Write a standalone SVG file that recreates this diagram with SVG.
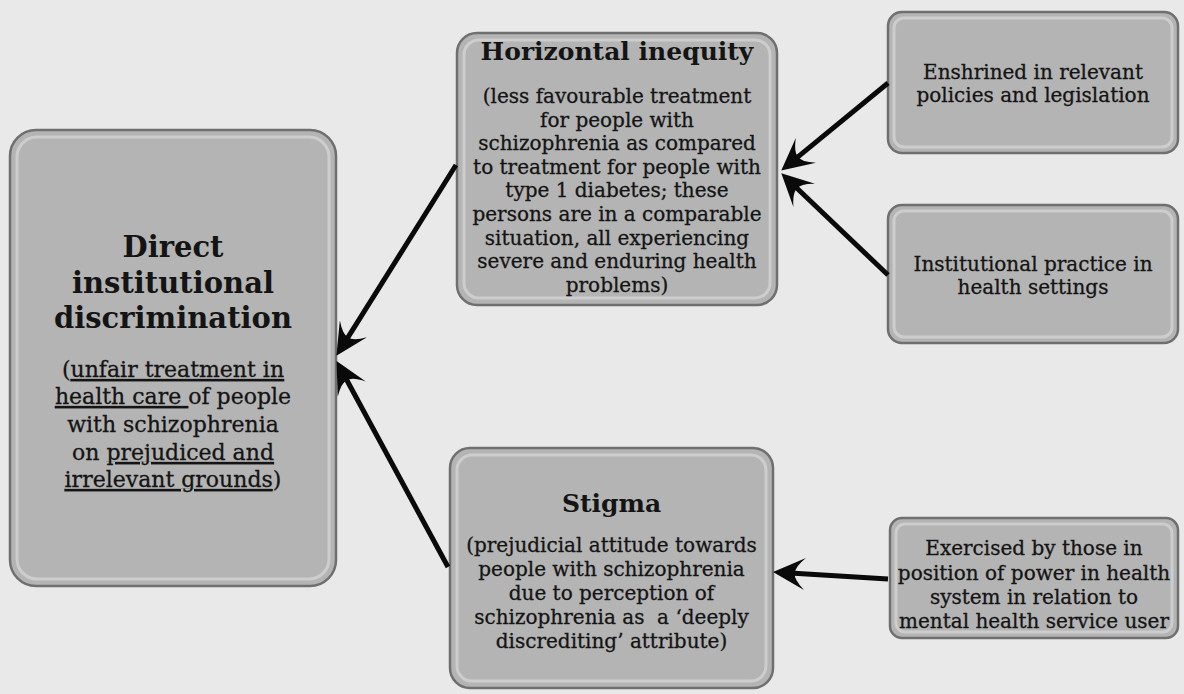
<svg xmlns="http://www.w3.org/2000/svg" width="1184" height="694" viewBox="0 0 1184 694">
<style>
.bg{fill:#e9e9e9}
.box{fill:#b4b4b4;stroke:#6f6f6f;stroke-width:2.5}
.bev{fill:none;stroke:#d6d6d6;stroke-width:3;opacity:0.75}
text{font-family:"DejaVu Serif","Liberation Serif",serif;fill:#141414;text-anchor:middle}
.t1{font-size:29px;font-weight:bold}
.t2{font-size:25px;font-weight:bold}
.s1{font-size:22px;stroke:#141414;stroke-width:0.3}
.s2{font-size:20px;stroke:#141414;stroke-width:0.3}
.u{text-decoration:underline}
.conn{stroke:#0a0a0a;stroke-width:5;fill:none;marker-end:url(#arr)}
</style>
<defs>
<marker id="arr" markerUnits="userSpaceOnUse" viewBox="0 0 32 32" markerWidth="32" markerHeight="32" refX="23" refY="16" orient="auto">
<path d="M32,16 L0,0 Q11,10 10,16 Q11,22 0,32 Z" fill="#0a0a0a"/>
</marker>
</defs>
<rect class="bg" x="0" y="0" width="1184" height="694"/>

<g id="direct">
<rect class="box" x="10" y="130" width="326" height="456" rx="26"/>
<rect class="bev" x="17" y="137" width="312" height="442" rx="20"/>
<text class="t1" x="173" y="257">Direct</text>
<text class="t1" x="173" y="293">institutional</text>
<text class="t1" x="173" y="328">discrimination</text>
<text class="s1" x="173" y="377">(<tspan class="u">unfair treatment in</tspan></text>
<text class="s1" x="173" y="404"><tspan class="u">health care </tspan>of people</text>
<text class="s1" x="173" y="432">with schizophrenia</text>
<text class="s1" x="173" y="460">on <tspan class="u">prejudiced and</tspan></text>
<text class="s1" x="173" y="487"><tspan class="u">irrelevant grounds</tspan>)</text>
</g>

<g id="horizontal">
<rect class="box" x="457" y="33" width="320" height="272" rx="20"/>
<rect class="bev" x="464" y="40" width="306" height="258" rx="15"/>
<text class="t2" x="617" y="60">Horizontal inequity</text>
<text class="s2" x="617" y="103">(less favourable treatment</text>
<text class="s2" x="617" y="126.6">for people with</text>
<text class="s2" x="617" y="150.2">schizophrenia as compared</text>
<text class="s2" x="617" y="173.8">to treatment for people with</text>
<text class="s2" x="617" y="197.4">type 1 diabetes; these</text>
<text class="s2" x="617" y="221">persons are in a comparable</text>
<text class="s2" x="617" y="244.6">situation, all experiencing</text>
<text class="s2" x="617" y="268.2">severe and enduring health</text>
<text class="s2" x="617" y="291.8">problems)</text>
</g>

<g id="stigma">
<rect class="box" x="450" y="448" width="323" height="240" rx="20"/>
<rect class="bev" x="457" y="455" width="309" height="226" rx="15"/>
<text class="t2" x="611.5" y="512">Stigma</text>
<text class="s2" x="611.5" y="552">(prejudicial attitude towards</text>
<text class="s2" x="611.5" y="576">people with schizophrenia</text>
<text class="s2" x="611.5" y="600">due to perception of</text>
<text class="s2" x="611.5" y="624" xml:space="preserve">schizophrenia as  a ‘deeply</text>
<text class="s2" x="611.5" y="648">discrediting’ attribute)</text>
</g>

<g id="enshrined">
<rect class="box" x="888" y="12" width="290" height="141" rx="14"/>
<rect class="bev" x="894" y="18" width="278" height="129" rx="10"/>
<text class="s2" x="1033" y="79">Enshrined in relevant</text>
<text class="s2" x="1033" y="102">policies and legislation</text>
</g>

<g id="institutional">
<rect class="box" x="888" y="205" width="290" height="138" rx="14"/>
<rect class="bev" x="894" y="211" width="278" height="126" rx="10"/>
<text class="s2" x="1033" y="271">Institutional practice in</text>
<text class="s2" x="1033" y="294">health settings</text>
</g>

<g id="exercised">
<rect class="box" x="890" y="518" width="288" height="120" rx="12"/>
<rect class="bev" x="896" y="524" width="276" height="108" rx="9"/>
<text class="s2" x="1034" y="555">Exercised by those in</text>
<text class="s2" x="1034" y="580">position of power in health</text>
<text class="s2" x="1034" y="604">system in relation to</text>
<text class="s2" x="1034" y="628">mental health service user</text>
</g>

<g id="connectors">
<line class="conn" x1="888" y1="83" x2="788.2" y2="164.9"/>
<line class="conn" x1="888" y1="275" x2="787.8" y2="179.5"/>
<line class="conn" x1="456" y1="165" x2="341.2" y2="348.2"/>
<line class="conn" x1="448" y1="567" x2="340.8" y2="369"/>
<line class="conn" x1="888" y1="579" x2="782" y2="572.5"/>
</g>
</svg>
